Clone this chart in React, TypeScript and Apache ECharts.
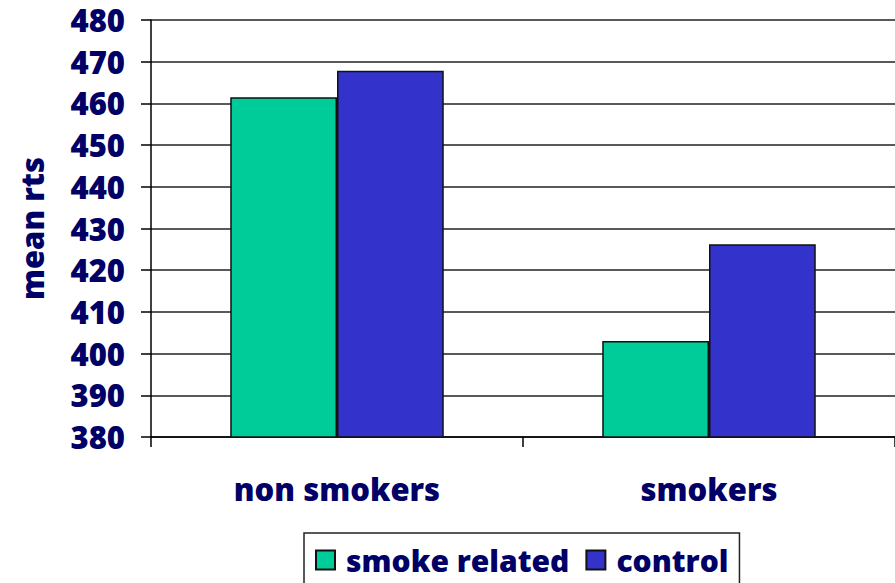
import React, { useEffect, useRef } from "react";
import * as echarts from "echarts";

const categories = ["non smokers", "smokers"];
const smokeRelated = [461.5, 403.0];
const control = [467.8, 426.2];
const yMin = 380;
const yMax = 480;
const yStep = 10;

const navy = "#000066";
const font = "'Open Sans', sans-serif";
const weight = 800;

export default function App() {
  const ref = useRef<HTMLDivElement>(null);

  useEffect(() => {
    if (!ref.current) return;
    const chart = echarts.init(ref.current, undefined, { renderer: "svg" });
    const barStyle = (color: string) => ({
      color,
      borderColor: "#111",
      borderWidth: 1.5,
    });
    chart.setOption({
      animation: false,
      backgroundColor: "#fff",
      textStyle: { fontFamily: font },
      grid: { left: 151, top: 20, width: 746, height: 417, containLabel: false },
      legend: {
        left: 304,
        top: 533,
        orient: "horizontal",
        itemWidth: 19,
        itemHeight: 19,
        itemGap: 16,
        padding: [12, 11, 20, 11],
        borderColor: "#222",
        borderWidth: 1.5,
        icon: "rect",
        textStyle: {
          color: navy,
          fontFamily: font,
          fontWeight: weight,
          fontSize: 30,
          padding: [0, 0, 0, 6],
        },
        data: ["smoke related", "control"],
      },
      xAxis: {
        type: "category",
        data: categories,
        boundaryGap: true,
        axisLine: { show: true, lineStyle: { color: "#000", width: 1.5 } },
        axisTick: { show: true, length: 10, lineStyle: { color: "#000", width: 1.5 } },
        axisLabel: {
          margin: 36,
          color: navy,
          fontFamily: font,
          fontWeight: weight,
          fontSize: 31,
        },
        splitLine: { show: false },
      },
      yAxis: {
        type: "value",
        min: yMin,
        max: yMax,
        interval: yStep,
        name: "mean rts",
        nameLocation: "middle",
        nameGap: 104,
        nameRotate: 90,
        nameTextStyle: {
          color: navy,
          fontFamily: font,
          fontWeight: weight,
          fontSize: 31,
        },
        axisLine: { show: true, lineStyle: { color: "#000", width: 1.5 } },
        axisTick: { show: true, length: 10, lineStyle: { color: "#000", width: 1.5 } },
        axisLabel: {
          margin: 26,
          color: navy,
          fontFamily: font,
          fontWeight: weight,
          fontSize: 31,
        },
        splitLine: { show: true, lineStyle: { color: "#222", width: 1.5 } },
      },
      series: [
        {
          name: "smoke related",
          type: "bar",
          data: smokeRelated,
          barGap: "0%",
          barCategoryGap: "42.6%",
          itemStyle: barStyle("#00CC99"),
        },
        {
          name: "control",
          type: "bar",
          data: control,
          barGap: "0%",
          barCategoryGap: "42.6%",
          itemStyle: barStyle("#3333CC"),
        },
      ],
    });
    return () => chart.dispose();
  }, []);

  return (
    <div
      ref={ref}
      style={{ position: "fixed", left: 0, top: 0, width: 895, height: 583 }}
    />
  );
}
